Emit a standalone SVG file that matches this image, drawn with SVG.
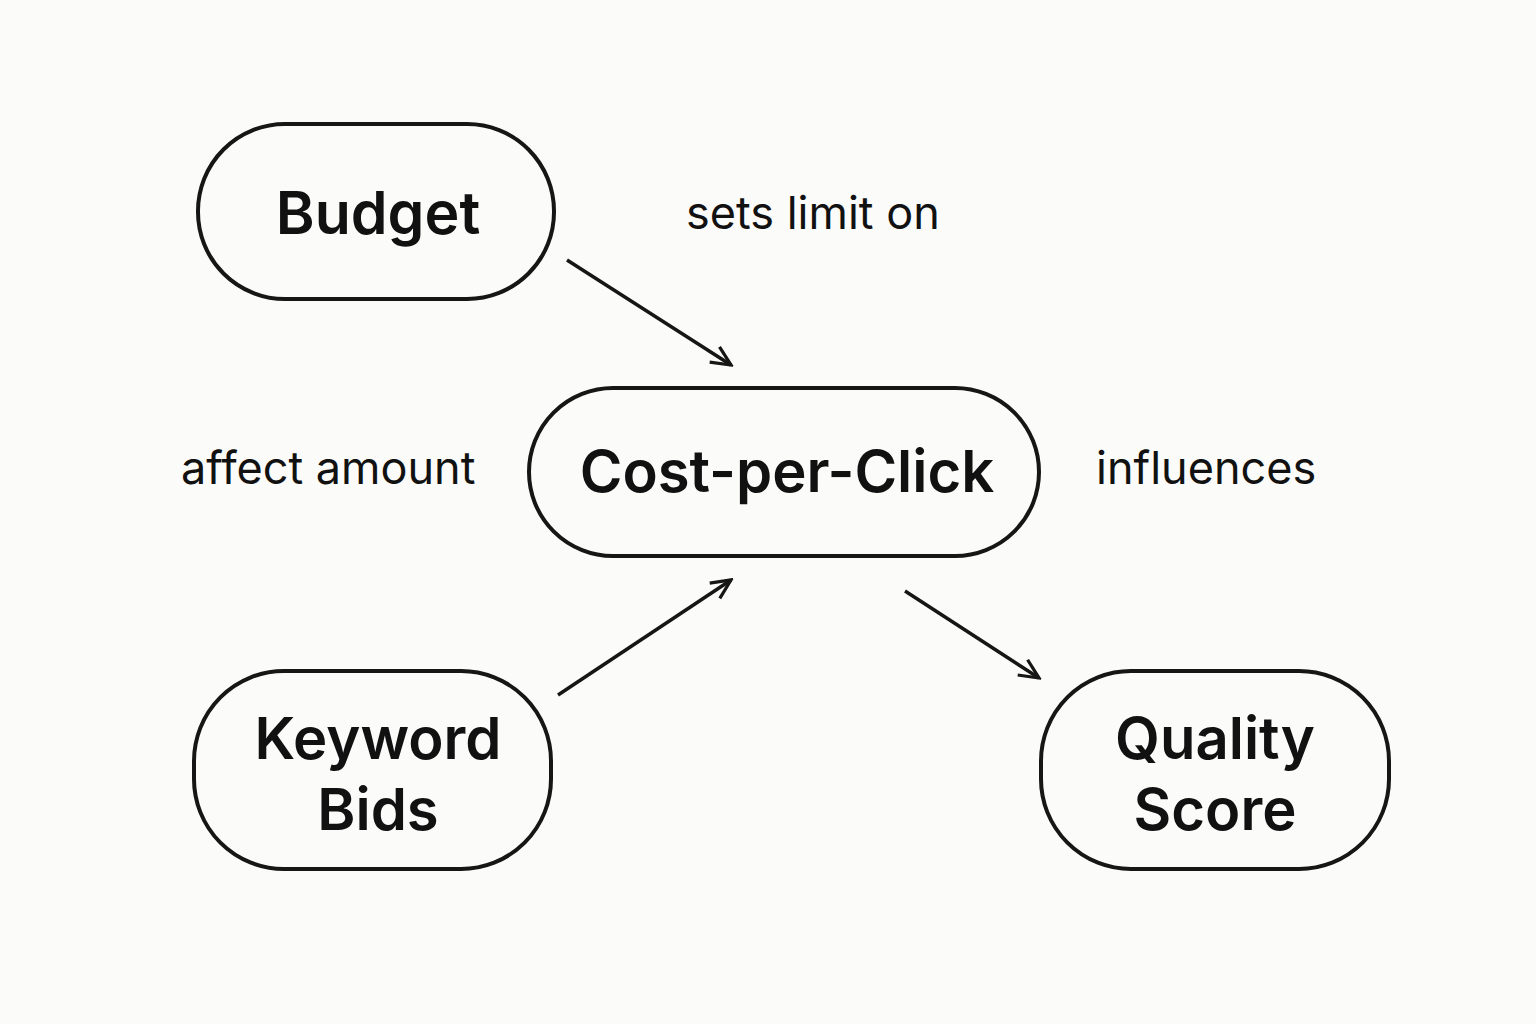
<svg xmlns="http://www.w3.org/2000/svg" width="1536" height="1024" viewBox="0 0 1536 1024">
<defs>
<style>
.n{fill:none;stroke:#161616;stroke-width:4}
.t{font-family:Inter,"Liberation Sans",sans-serif;font-weight:600;fill:#111;text-anchor:middle}
.l{font-family:Inter,"Liberation Sans",sans-serif;font-size:45px;fill:#111}
.c{stroke:#161616;stroke-width:3.5;fill:none}
</style>
<marker id="a" viewBox="0 0 20 20" refX="18" refY="10" markerWidth="26" markerHeight="26" markerUnits="userSpaceOnUse" orient="auto">
<path d="M3,3 L18,10 L3,17" fill="none" stroke="#161616" stroke-width="2.5"/>
</marker>
</defs>
<rect width="1536" height="1024" fill="#fbfbf9"/>
<g id="budget"><rect class="n" x="198" y="124" width="356" height="175" rx="87"/><text class="t" x="378" y="234" font-size="59">Budget</text></g>
<g id="cpc"><rect class="n" x="529" y="388" width="510" height="168" rx="84"/><text class="t" x="787" y="492" font-size="58">Cost-per-Click</text></g>
<g id="keyword"><rect class="n" x="194" y="671" width="357" height="198" rx="90"/><text class="t" x="378" y="759" font-size="58">Keyword</text><text class="t" x="378" y="830" font-size="58">Bids</text></g>
<g id="quality"><rect class="n" x="1041" y="671" width="348" height="198" rx="90"/><text class="t" x="1215" y="759" font-size="58">Quality</text><text class="t" x="1215" y="830" font-size="58">Score</text></g>
<g id="connectors">
<line class="c" x1="567" y1="260" x2="731" y2="365" marker-end="url(#a)"/>
<line class="c" x1="558" y1="695" x2="731" y2="580" marker-end="url(#a)"/>
<line class="c" x1="905" y1="591" x2="1039" y2="678" marker-end="url(#a)"/>
</g>
<text class="l" x="686" y="229">sets limit on</text>
<text class="l" x="181" y="484">affect amount</text>
<text class="l" x="1096" y="484">influences</text>
</svg>
